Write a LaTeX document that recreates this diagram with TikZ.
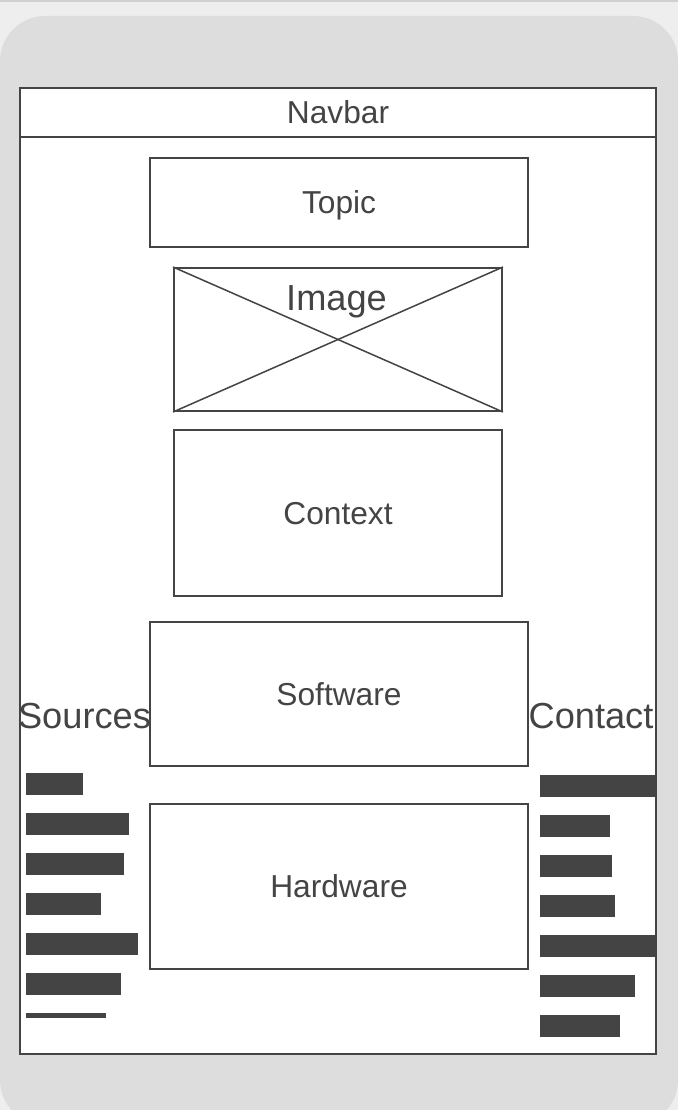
\documentclass[tikz,border=0pt]{standalone}
\usepackage{fontspec}
\setmainfont{Liberation Sans}
\definecolor{ink}{HTML}{444444}
\definecolor{phone}{HTML}{DDDDDD}
\definecolor{page}{HTML}{EEEEEE}
\definecolor{rule}{HTML}{D0D0D0}
\tikzset{
  box/.style={draw=ink, line width=2pt, fill=white, rectangle, inner sep=0pt},
  lbl/.style={text=ink, inner sep=0pt, font=\fontsize{31.7}{37}\selectfont, text height=22.7pt, text depth=0pt},
  biglbl/.style={text=ink, inner sep=0pt, font=\fontsize{36.2}{42}\selectfont, text height=25.9pt, text depth=0pt},
  bar/.style={fill=ink}
}
\begin{document}
\begin{tikzpicture}[x=1pt,y=-1pt]
\useasboundingbox (0,0) rectangle (678,1110);
% background
\fill[page] (0,0) rectangle (678,1110);
\fill[rule] (0,0) rectangle (678,2);
\begin{scope}
\clip (0,0) rectangle (678,1110);
\fill[phone, rounded corners=45pt] (0,16) rectangle (678,1125);
\end{scope}
% screen
\node[box, minimum width=636pt, minimum height=917pt] (screen) at (338,595.5) {};
\node[box, minimum width=636pt, minimum height=49pt, lbl] (navbar) at (338,112.5) {Navbar};
% content boxes
\node[box, lbl, minimum width=378pt, minimum height=89pt] (topic) at (339,202.5) {Topic};
\node[box, minimum width=328pt, minimum height=143pt] (img) at (338,339.5) {};
\draw[ink, line width=1.5pt] (img.north west) -- (img.south east);
\draw[ink, line width=1.5pt] (img.north east) -- (img.south west);
\node[biglbl, anchor=north] (imglbl) at (336.5,284.5) {Image};
\node[box, lbl, minimum width=328pt, minimum height=166pt] (context) at (338,513) {Context};
\node[box, lbl, minimum width=378pt, minimum height=144pt] (software) at (339,694) {Software};
\node[box, lbl, minimum width=378pt, minimum height=165pt] (hardware) at (339,886.5) {Hardware};
% side labels
\node[biglbl] (sources) at (84.5,715.5) {Sources};
\node[biglbl] (contact) at (591,715.5) {Contact};
% left bars
\fill[bar] (26,773) rectangle (83,795);
\fill[bar] (26,813) rectangle (129,835);
\fill[bar] (26,853) rectangle (124,875);
\fill[bar] (26,893) rectangle (101,915);
\fill[bar] (26,933) rectangle (138,955);
\fill[bar] (26,973) rectangle (121,995);
\fill[bar] (26,1013) rectangle (106,1017.5);
% right bars
\fill[bar] (540,775) rectangle (656,797);
\fill[bar] (540,815) rectangle (610,837);
\fill[bar] (540,855) rectangle (612,877);
\fill[bar] (540,895) rectangle (615,917);
\fill[bar] (540,935) rectangle (656,957);
\fill[bar] (540,975) rectangle (635,997);
\fill[bar] (540,1015) rectangle (620,1037);
\end{tikzpicture}
\end{document}
